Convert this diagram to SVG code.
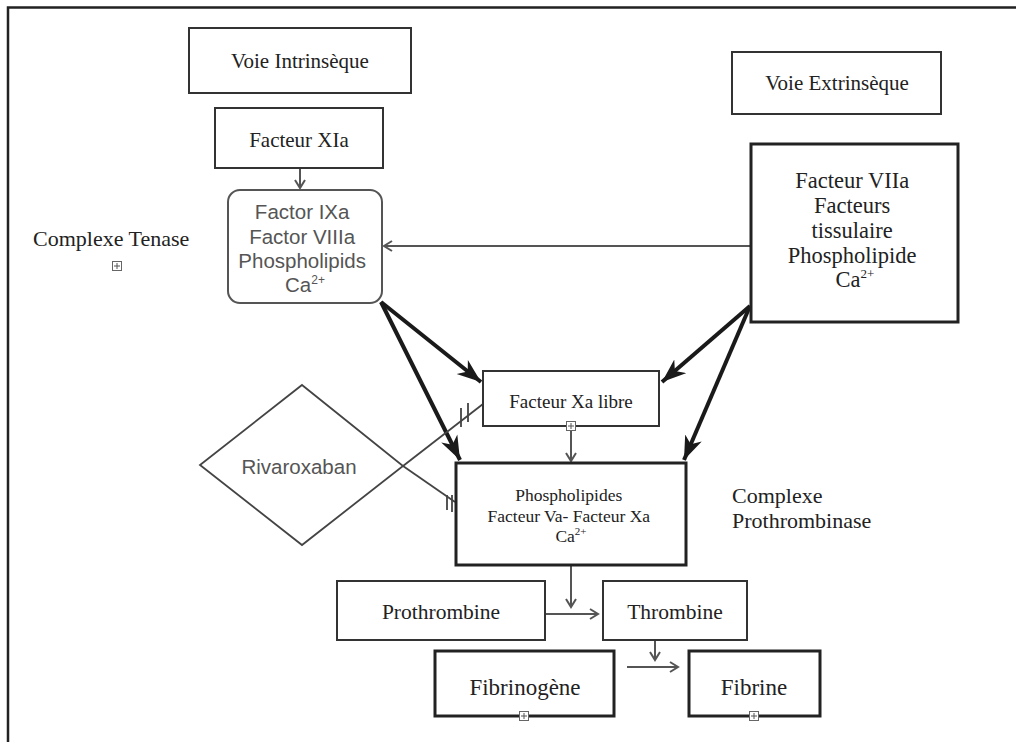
<svg xmlns="http://www.w3.org/2000/svg" width="1016" height="742" viewBox="0 0 1016 742">
<style>
.box{fill:#fff;stroke:#333;stroke-width:2}
.thick{fill:#fff;stroke:#222;stroke-width:3}
.serif{font-family:"Liberation Serif","Times New Roman",serif;fill:#222}
.sans{font-family:"Liberation Sans",Arial,sans-serif;fill:#555}
.thin{stroke:#555;stroke-width:2;fill:none}
.heavy{stroke:#1a1a1a;stroke-width:4;fill:none}
.inh{stroke:#444;stroke-width:1.8;fill:none}
.icon{fill:#fff;stroke:#666;stroke-width:1}
</style>
<defs>
<marker id="ah" markerUnits="userSpaceOnUse" markerWidth="12" markerHeight="12" refX="10" refY="6" orient="auto">
<path d="M2,1 L10,6 L2,11" fill="none" stroke="#555" stroke-width="2"/>
</marker>
<marker id="bh" markerUnits="userSpaceOnUse" markerWidth="26" markerHeight="20" refX="24" refY="10" orient="auto">
<path d="M0,1 L24,10 L0,19 L7,10 z" fill="#1a1a1a"/>
</marker>
<g id="plus">
<rect class="icon" x="-4.5" y="-4.5" width="9" height="9"/>
<path d="M-3,0 H3 M0,-3 V3" stroke="#555" stroke-width="1"/>
</g>
</defs>
<rect width="1016" height="742" fill="#fff"/>
<path d="M8,742 V7.5 H1016" fill="none" stroke="#222" stroke-width="2.5"/>

<g id="connectors">
<line class="thin" x1="300" y1="168" x2="300" y2="188" marker-end="url(#ah)"/>
<line class="thin" x1="751" y1="246" x2="384" y2="246" marker-end="url(#ah)"/>
<line class="heavy" x1="381" y1="302" x2="481" y2="382" marker-end="url(#bh)"/>
<line class="heavy" x1="381" y1="302" x2="460" y2="460" marker-end="url(#bh)"/>
<line class="heavy" x1="750" y1="306" x2="662" y2="382" marker-end="url(#bh)"/>
<line class="heavy" x1="750" y1="306" x2="684" y2="460" marker-end="url(#bh)"/>
<line class="thin" x1="571" y1="431" x2="571" y2="461" marker-end="url(#ah)"/>
<line class="thin" x1="571" y1="566" x2="571" y2="607" marker-end="url(#ah)"/>
<line class="thin" x1="546" y1="614" x2="598" y2="614" marker-end="url(#ah)"/>
<line class="thin" x1="655" y1="641" x2="655" y2="660" marker-end="url(#ah)"/>
<line class="thin" x1="627" y1="667" x2="678" y2="667" marker-end="url(#ah)"/>
<line class="inh" x1="403" y1="466" x2="455" y2="502"/>
<path class="inh" d="M447,495 V510 M452,495 V512"/>
<line class="inh" x1="403" y1="466" x2="483" y2="404"/>
<path class="inh" d="M461,408 V427 M468,403 V422"/>
</g>

<g id="voie-intrinseque">
<rect class="box" x="189" y="28" width="222" height="65"/>
<text class="serif" x="300" y="68" font-size="21" text-anchor="middle">Voie Intrinsèque</text>
</g>
<g id="facteur-xia">
<rect class="box" x="215" y="108" width="168" height="60"/>
<text class="serif" x="299" y="147" font-size="21" text-anchor="middle">Facteur XIa</text>
</g>
<g id="tenase">
<rect fill="#fff" stroke="#555" stroke-width="2" x="228" y="190" width="154" height="113" rx="12"/>
<text class="sans" font-size="20.5" text-anchor="middle">
<tspan x="305" y="219">Factor IXa</tspan>
<tspan x="305" y="244">Factor VIIIa</tspan>
<tspan x="305" y="268">Phospholipids</tspan>
<tspan x="305" y="292">Ca<tspan font-size="12" dy="-8">2+</tspan></tspan>
</text>
</g>
<g id="complexe-tenase">
<text class="serif" x="33" y="246" font-size="22">Complexe Tenase</text>
<use href="#plus" x="117" y="266"/>
</g>
<g id="voie-extrinseque">
<rect class="box" x="732" y="52" width="209" height="62"/>
<text class="serif" x="837" y="90" font-size="21" text-anchor="middle">Voie Extrinsèque</text>
</g>
<g id="facteur-viia">
<rect class="thick" x="751" y="144" width="207" height="178"/>
<text class="serif" font-size="22.5" text-anchor="middle">
<tspan x="855" y="188">Facteur VIIa</tspan>
<tspan x="855" y="213">Facteurs</tspan>
<tspan x="855" y="238">tissulaire</tspan>
<tspan x="855" y="263">Phospholipide</tspan>
<tspan x="855" y="287">Ca<tspan font-size="13" dy="-9">2+</tspan></tspan>
</text>
</g>
<g id="facteur-xa-libre">
<rect class="box" x="483" y="371" width="176" height="55"/>
<text class="serif" x="571" y="408" font-size="19" text-anchor="middle">Facteur Xa libre</text>
<use href="#plus" x="571" y="426"/>
</g>
<g id="rivaroxaban">
<path d="M302,385 L403,466 L302,545 L200,465 Z" fill="none" stroke="#444" stroke-width="1.8"/>
<text class="sans" x="299" y="474" font-size="20.5" text-anchor="middle">Rivaroxaban</text>
</g>
<g id="prothrombinase">
<rect class="thick" x="456" y="463" width="230" height="102"/>
<text class="serif" font-size="17.5" text-anchor="middle">
<tspan x="571" y="501">Phospholipides</tspan>
<tspan x="571" y="522">Facteur Va- Facteur Xa</tspan>
<tspan x="571" y="542">Ca<tspan font-size="11" dy="-7">2+</tspan></tspan>
</text>
</g>
<g id="complexe-prothrombinase">
<text class="serif" font-size="22"><tspan x="732" y="503">Complexe</tspan><tspan x="732" y="528">Prothrombinase</tspan></text>
</g>
<g id="prothrombine">
<rect class="box" x="337" y="581" width="208" height="59"/>
<text class="serif" x="441" y="619" font-size="21.5" text-anchor="middle">Prothrombine</text>
</g>
<g id="thrombine">
<rect class="box" x="603" y="581" width="144" height="59"/>
<text class="serif" x="675" y="619" font-size="21.5" text-anchor="middle">Thrombine</text>
</g>
<g id="fibrinogene">
<rect class="thick" x="435" y="651" width="179" height="65"/>
<text class="serif" x="525" y="695" font-size="23" text-anchor="middle">Fibrinogène</text>
<use href="#plus" x="524" y="716"/>
</g>
<g id="fibrine">
<rect class="thick" x="689" y="651" width="131" height="65"/>
<text class="serif" x="754" y="695" font-size="23" text-anchor="middle">Fibrine</text>
<use href="#plus" x="754" y="716"/>
</g>
</svg>
